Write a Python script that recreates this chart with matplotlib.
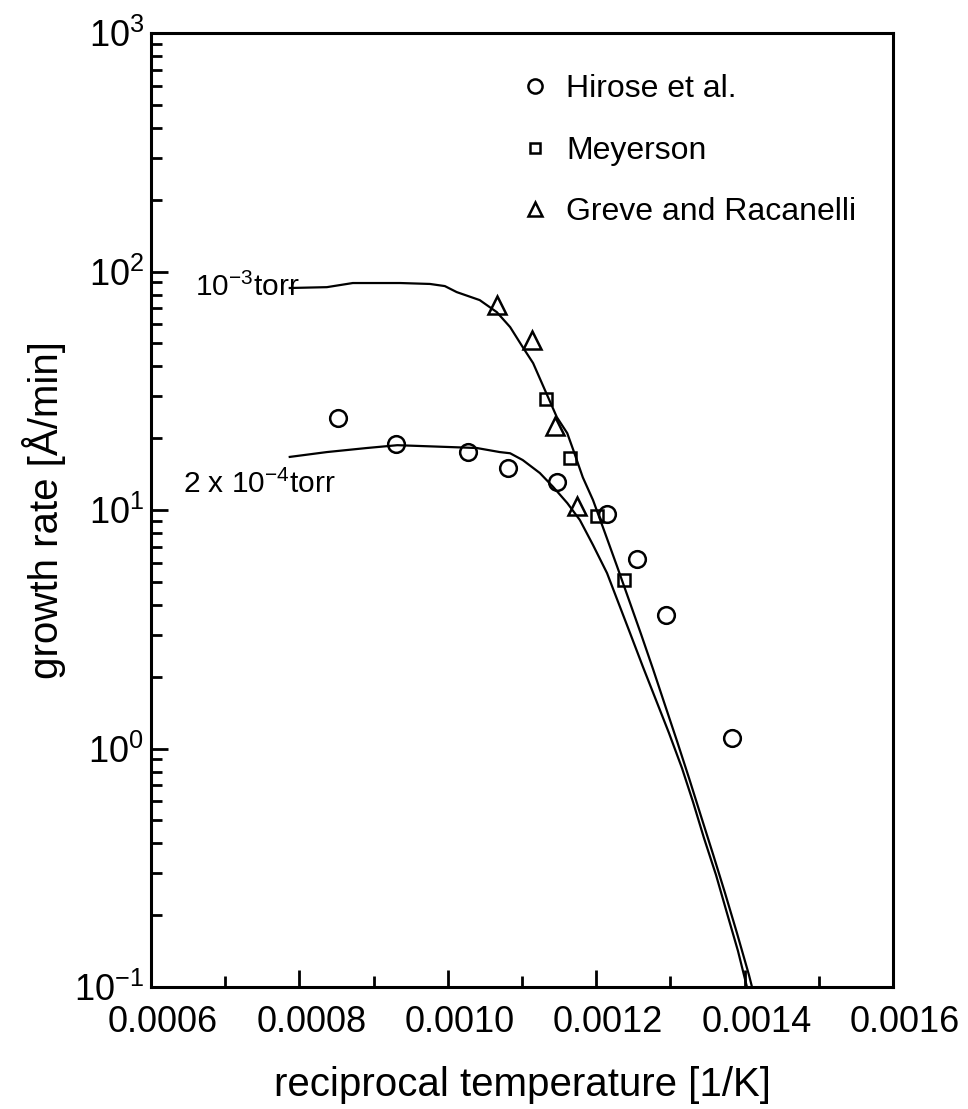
import matplotlib
matplotlib.use("Agg")
import matplotlib.pyplot as plt
from matplotlib.ticker import MultipleLocator, FormatStrFormatter, LogLocator
from matplotlib.transforms import ScaledTranslation

plt.rcParams['font.family'] = ['Liberation Sans', 'DejaVu Sans']
plt.rcParams['mathtext.fontset'] = 'custom'
plt.rcParams['mathtext.rm'] = 'Liberation Sans'
plt.rcParams['mathtext.it'] = 'Liberation Sans:italic'
plt.rcParams['mathtext.bf'] = 'Liberation Sans:bold'

# simulated growth rate, 1e-3 torr
hi_x = [0.000787, 0.000837, 0.000872, 0.000936, 0.000976, 0.000996, 0.001012,
        0.001043, 0.001066, 0.001084, 0.001101, 0.001115, 0.001131, 0.001147,
        0.001161, 0.001169, 0.001182, 0.0011957, 0.0012119, 0.0012280,
        0.0012442, 0.0012604, 0.0012766, 0.0012927, 0.0013089, 0.0013251,
        0.0013412, 0.0013574, 0.0013736, 0.0013898, 0.0014059, 0.0014100]
hi_y = [85.3, 86.0, 89.5, 89.5, 88.7, 86.9, 82.0,
        75.9, 67.6, 58.5, 48.2, 41.3, 31.8, 24.5,
        21.0, 17.9, 13.7, 11.01, 8.01, 5.82,
        4.195, 3.02, 2.154, 1.522, 1.075, 0.752,
        0.521, 0.361, 0.248, 0.168, 0.1123, 0.100]

# simulated growth rate, 2e-4 torr
lo_x = [0.000787, 0.000837, 0.000891, 0.000932, 0.001039, 0.001070, 0.001084,
        0.001101, 0.001124, 0.001142, 0.001161, 0.001178, 0.0011957, 0.0012146,
        0.0012280, 0.0012456, 0.0012631, 0.0012806, 0.0012981, 0.0013156,
        0.0013305, 0.0013453, 0.0013615, 0.0013763, 0.0013911, 0.0014032]
lo_y = [16.7, 17.5, 18.2, 18.7, 18.2, 17.5, 17.3,
        16.2, 14.3, 12.5, 10.7, 9.08, 7.135, 5.44,
        4.235, 3.05, 2.196, 1.597, 1.161, 0.828,
        0.597, 0.421, 0.295, 0.204, 0.1416, 0.100]

# measurements
hirose_x = [0.000852, 0.000930, 0.001027, 0.001081, 0.001147, 0.001215,
            0.001255, 0.001294, 0.001383]
hirose_y = [24.3, 18.9, 17.5, 15.0, 13.1, 9.62, 6.23, 3.63, 1.11]

meyerson_x = [0.001132, 0.001165, 0.001201, 0.001237]
meyerson_y = [29.2, 16.5, 9.44, 5.09]

greve_x = [0.001066, 0.001113, 0.001144, 0.001174]
greve_y = [72.4, 51.6, 22.5, 10.4]

fig = plt.figure(figsize=(9.68, 11.09), dpi=100)
ax = fig.add_axes([0.156, 0.110, 0.7665, 0.8602])

ax.plot(hi_x, hi_y, color='black', lw=1.6)
ax.plot(lo_x, lo_y, color='black', lw=1.6)

h1, = ax.plot(hirose_x, hirose_y, 'o', ms=12, mfc='none', mec='black', mew=1.8,
              label='Hirose et al.')
h2, = ax.plot(meyerson_x, meyerson_y, 's', ms=9, mfc='none', mec='black', mew=1.8,
              label='Meyerson')
h3, = ax.plot(greve_x, greve_y, '^', ms=12.5, mfc='none', mec='black', mew=1.8,
              label='Greve and Racanelli')

ax.set_yscale('log')
ax.set_xlim(0.0006, 0.0016)
ax.set_ylim(0.1, 1000)
ax.xaxis.set_major_locator(MultipleLocator(0.0002))
ax.xaxis.set_minor_locator(MultipleLocator(0.0001))
ax.xaxis.set_major_formatter(FormatStrFormatter('%.4f'))
ax.yaxis.set_major_locator(LogLocator(base=10, numticks=10))
ax.yaxis.set_minor_locator(LogLocator(base=10, subs=range(2, 10), numticks=10))

for s in ax.spines.values():
    s.set_linewidth(2.2)
ax.tick_params(which='both', direction='in', top=False, right=False, width=2)
ax.tick_params(which='major', length=12, labelsize=26)
ax.tick_params(which='minor', length=8)
ax.tick_params(axis='x', which='major', pad=13)
ax.tick_params(axis='y', which='major', pad=5)

# x labels sit slightly right of their ticks in the original
for lab in ax.get_xticklabels():
    lab.set_transform(lab.get_transform() + ScaledTranslation(0.12, 0, fig.dpi_scale_trans))

ax.set_xlabel('reciprocal temperature [1/K]', fontsize=29, labelpad=19)
ax.set_ylabel('growth rate [Å/min]', fontsize=29, labelpad=6)

ax.text(0.0593, 0.7243, r'10$^{\mathregular{-3}}$torr', transform=ax.transAxes,
        fontsize=21.5, va='baseline', ha='left')
ax.text(0.0431, 0.5178, r'2 x 10$^{\mathregular{-4}}$torr', transform=ax.transAxes,
        fontsize=21.5, va='baseline', ha='left')

ax.legend(handles=[h1, h2, h3], loc='upper left', bbox_to_anchor=(0.497, 0.957),
          frameon=False, fontsize=23, handlelength=0.95, handletextpad=0.5,
          labelspacing=0.99, borderpad=0, borderaxespad=0, markerscale=0.85)

fig.savefig('out.png', dpi=100)
